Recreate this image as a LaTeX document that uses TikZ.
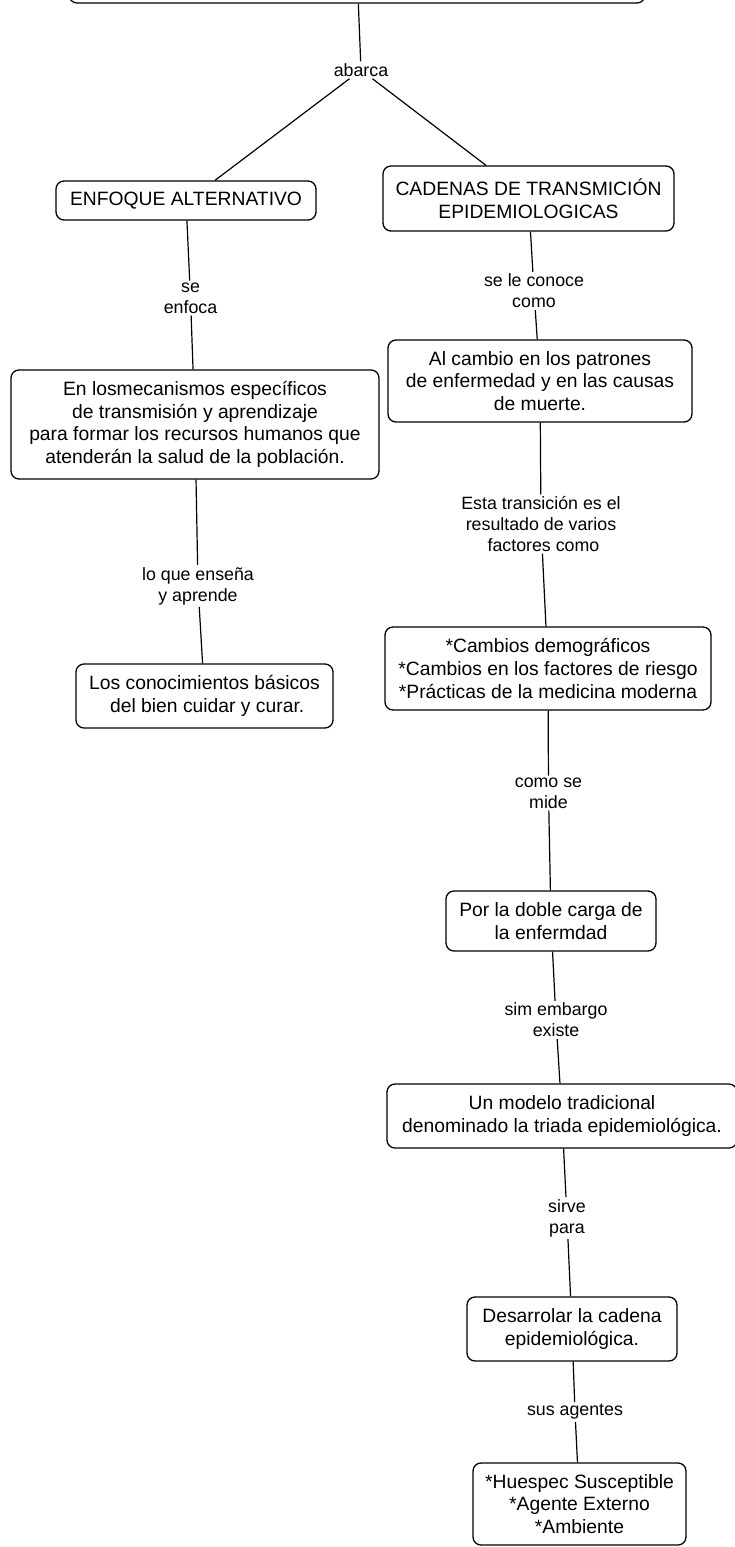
\documentclass[tikz,border=0pt]{standalone}
\usepackage{fontspec}
\setmainfont{Liberation Sans}
\begin{document}
\begin{tikzpicture}[x=1pt,y=-1pt,
  box/.style={draw, line width=1.3pt, rounded corners=8pt, align=center, inner sep=0pt,
    font=\fontsize{19.3}{22.6}\selectfont},
  lbl/.style={align=center, inner sep=2pt, fill=white, font=\fontsize{17.8}{20.8}\selectfont},
  conn/.style={line width=1.2pt}]
\useasboundingbox (0,0) rectangle (735,1547);
\fill[white] (0,0) rectangle (735,1547);
\clip (0,0) rectangle (735,1547);
% boxes
\node[box, minimum width=576pt, minimum height=66pt] (top) at (357,-30) {};
\node[box, minimum width=260pt, minimum height=39pt] (enf) at (186,200.5) {ENFOQUE ALTERNATIVO};
\node[box, minimum width=291pt, minimum height=65pt] (cad) at (528.5,198.5) {CADENAS DE TRANSMICIÓN\\EPIDEMIOLOGICAS};
\node[box, minimum width=368pt, minimum height=109pt] (mec) at (195,424.5) {En losmecanismos específicos\\de transmisión y aprendizaje\\para formar los recursos humanos que\\atenderán la salud de la población.};
\node[box, minimum width=257pt, minimum height=64pt] (con) at (204.5,696) {Los conocimientos básicos\\\ del bien cuidar y curar.};
\node[box, minimum width=304pt, minimum height=82pt] (alc) at (540,381) {Al cambio en los patrones\\de enfermedad y en las causas\\de muerte.};
\node[box, minimum width=326pt, minimum height=83pt] (camb) at (548,668.5) {*Cambios demográficos\\*Cambios en los factores de riesgo\\*Prácticas de la medicina moderna};
\node[box, minimum width=210pt, minimum height=60pt] (doble) at (551,921) {Por la doble carga de\\la enfermdad};
\node[box, minimum width=350pt, minimum height=64pt] (mod) at (562,1116) {Un modelo tradicional\\denominado la triada epidemiológica.};
\node[box, minimum width=210pt, minimum height=64pt] (des) at (572,1329) {Desarrolar la cadena\\epidemiológica.};
\node[box, minimum width=213pt, minimum height=82pt] (hue) at (579.5,1504) {*Huespec Susceptible\\*Agente Externo\\*Ambiente};
% labels
\node[lbl] (abarca) at (361,70) {abarca};
\node[lbl] (seenf) at (190.5,298) {se\\enfoca};
\node[lbl] (loque) at (198,586) {lo que enseña\\y aprende};
\node[lbl] (selec) at (534,291) {se le conoce\\como};
\node[lbl] (esta) at (541,524) {Esta transición es el\\resultado de varios\\\ factores como};
\node[lbl] (comose) at (548.5,793) {como se\\mide};
\node[lbl] (simemb) at (556,1020) {sim embargo\\existe};
\node[lbl] (sirve) at (567,1218) {sirve\\para};
\node[lbl] (sus) at (575,1412) {sus agentes};
% connectors
\draw[conn] (top) -- (abarca);
\draw[conn] (abarca) -- ([xshift=29pt]enf.north);
\draw[conn] (abarca) -- ([xshift=-42.5pt]cad.north);
\draw[conn] (enf) -- (seenf);
\draw[conn] (seenf) -- (mec);
\draw[conn] (mec) -- (loque);
\draw[conn] (loque) -- (con);
\draw[conn] (cad) -- (selec);
\draw[conn] (selec) -- (alc);
\draw[conn] (alc) -- (esta);
\draw[conn] (esta) -- (camb);
\draw[conn] (camb) -- (comose);
\draw[conn] (comose) -- (doble);
\draw[conn] (doble) -- (simemb);
\draw[conn] (simemb) -- (mod);
\draw[conn] (mod) -- (sirve);
\draw[conn] (sirve) -- (des);
\draw[conn] (des) -- (sus);
\draw[conn] (sus) -- (hue);
\end{tikzpicture}
\end{document}
